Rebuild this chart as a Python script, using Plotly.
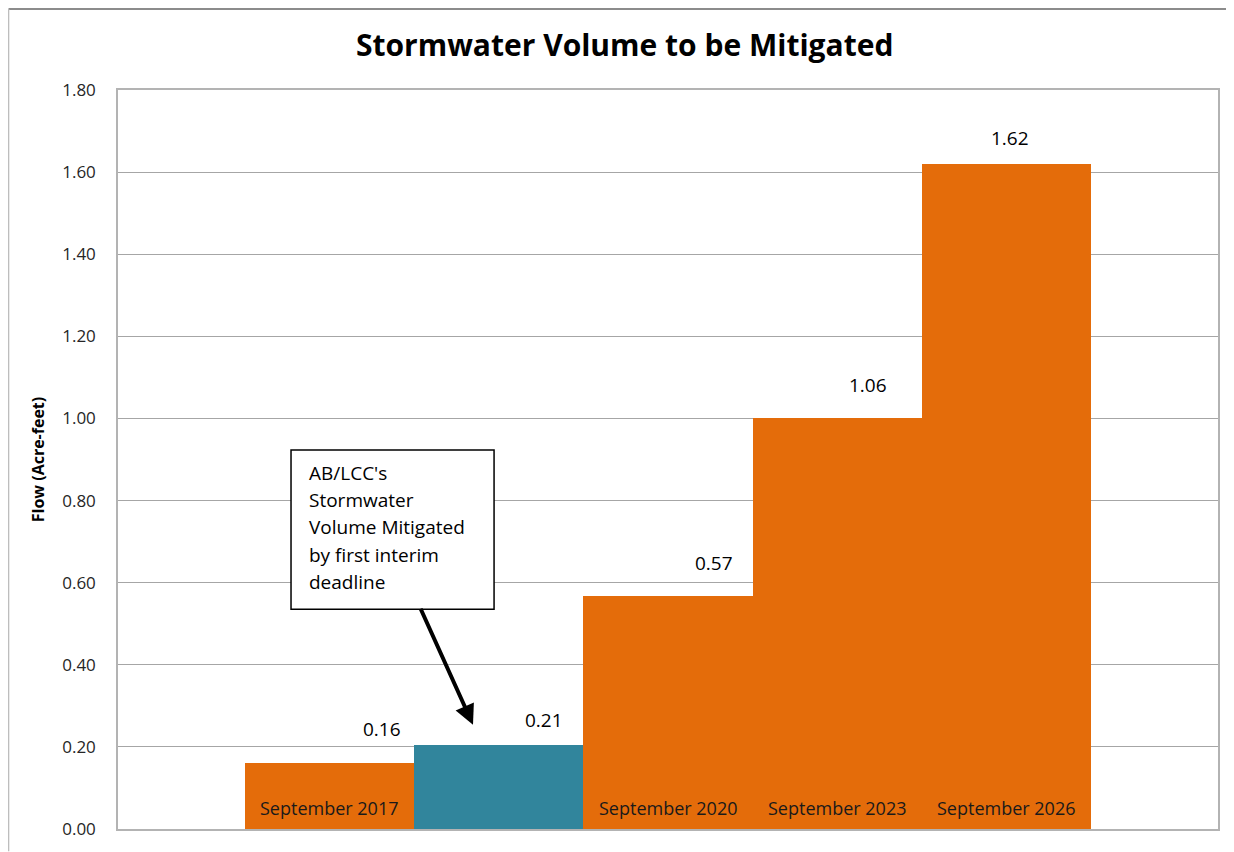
import plotly.graph_objects as go

categories = ["September 2017", "", "September 2020", "September 2023", "September 2026"]
values = [0.16, 0.205, 0.567, 1.0, 1.62]
value_labels = ["0.16", "0.21", "0.57", "1.06", "1.62"]
bar_colors = ["#E46C0A", "#31859C", "#E46C0A", "#E46C0A", "#E46C0A"]
y_ticks = [0.0, 0.2, 0.4, 0.6, 0.8, 1.0, 1.2, 1.4, 1.6, 1.8]
callout_lines = ["AB/LCC's", "Stormwater", "Volume Mitigated", "by first interim", "deadline"]

# label placement styling (offsets from bar centre, pixel lift above bar top)
label_dx = [0.31, 0.27, 0.27, 0.18, 0.02]
label_lift = [34, 25, 33, 33, 26]

xs = list(range(len(values)))
FONT = "Open Sans"

fig = go.Figure()
fig.add_trace(go.Bar(
    x=xs, y=values, width=1.0,
    marker=dict(color=bar_colors, line=dict(width=0)),
    hoverinfo="skip",
))

ann = []
for i, (v, t) in enumerate(zip(values, value_labels)):
    ann.append(dict(x=i + label_dx[i], y=v, xref="x", yref="y", text=t,
                    showarrow=False, yshift=label_lift[i], yanchor="middle",
                    font=dict(family=FONT, size=19, color="#000000")))
for i, c in enumerate(categories):
    if c:
        ann.append(dict(x=i, y=0, xref="x", yref="y", text=c, showarrow=False,
                        yshift=21, yanchor="middle",
                        font=dict(family=FONT, size=18, color="#1a1a1a")))

# callout box
box_x0, box_x1, box_y0, box_y1 = -0.228, 0.972, 0.535, 0.923
for k, line in enumerate(callout_lines):
    ann.append(dict(x=-0.134, y=box_y1, xref="x", yref="y", text=line,
                    showarrow=False, xanchor="left", yanchor="middle",
                    yshift=-23 - 27.2 * k,
                    font=dict(family=FONT, size=19, color="#000000")))
# arrow
ann.append(dict(
    x=0.8475, y=0.254, ax=0.534, ay=0.540, xref="x", yref="y", axref="x", ayref="y",
    text="", showarrow=True, arrowhead=2, arrowsize=1, arrowwidth=4, arrowcolor="#000000",
))

shapes = [
    dict(type="rect", xref="x", yref="y", x0=box_x0, x1=box_x1, y0=box_y0, y1=box_y1,
         fillcolor="#ffffff", line=dict(color="#000000", width=1.5), layer="above"),
    dict(type="line", xref="paper", yref="paper", x0=-0.0995, x1=1.03, y0=1.1096, y1=1.1096,
         line=dict(color="#8c8c8c", width=2)),
    dict(type="line", xref="paper", yref="paper", x0=-0.0995, x1=-0.0995, y0=1.1096, y1=-0.03,
         line=dict(color="#bdbdbd", width=1.5)),
]

fig.update_layout(
    width=1226, height=844,
    margin=dict(l=110, r=16, t=82, b=15),
    paper_bgcolor="#ffffff", plot_bgcolor="#ffffff",
    showlegend=False, bargap=0,
    title=dict(text="<b>Stormwater Volume to be Mitigated</b>", x=0.503, xanchor="center",
               y=0.956, yanchor="middle",
               font=dict(family=FONT, size=30, color="#000000")),
    xaxis=dict(range=[-1.2506, 5.2506], showticklabels=False, showgrid=False, zeroline=False,
               showline=True, mirror=True, linecolor="#b3b3b3", linewidth=1.5, ticks=""),
    yaxis=dict(range=[0, 1.8], tickvals=y_ticks, ticktext=[f"{t:.2f}" for t in y_ticks],
               showgrid=True, gridcolor="#a6a6a6", gridwidth=1, zeroline=False,
               showline=True, mirror=True, linecolor="#b3b3b3", linewidth=1.5,
               ticks="", ticklabelstandoff=17,
               tickfont=dict(family=FONT, size=17, color="#262626"),
               title=dict(text="<b>Flow (Acre-feet)</b>", standoff=14,
                          font=dict(family=FONT, size=16, color="#000000"))),
    annotations=ann, shapes=shapes,
)

fig.write_html("out.html")
